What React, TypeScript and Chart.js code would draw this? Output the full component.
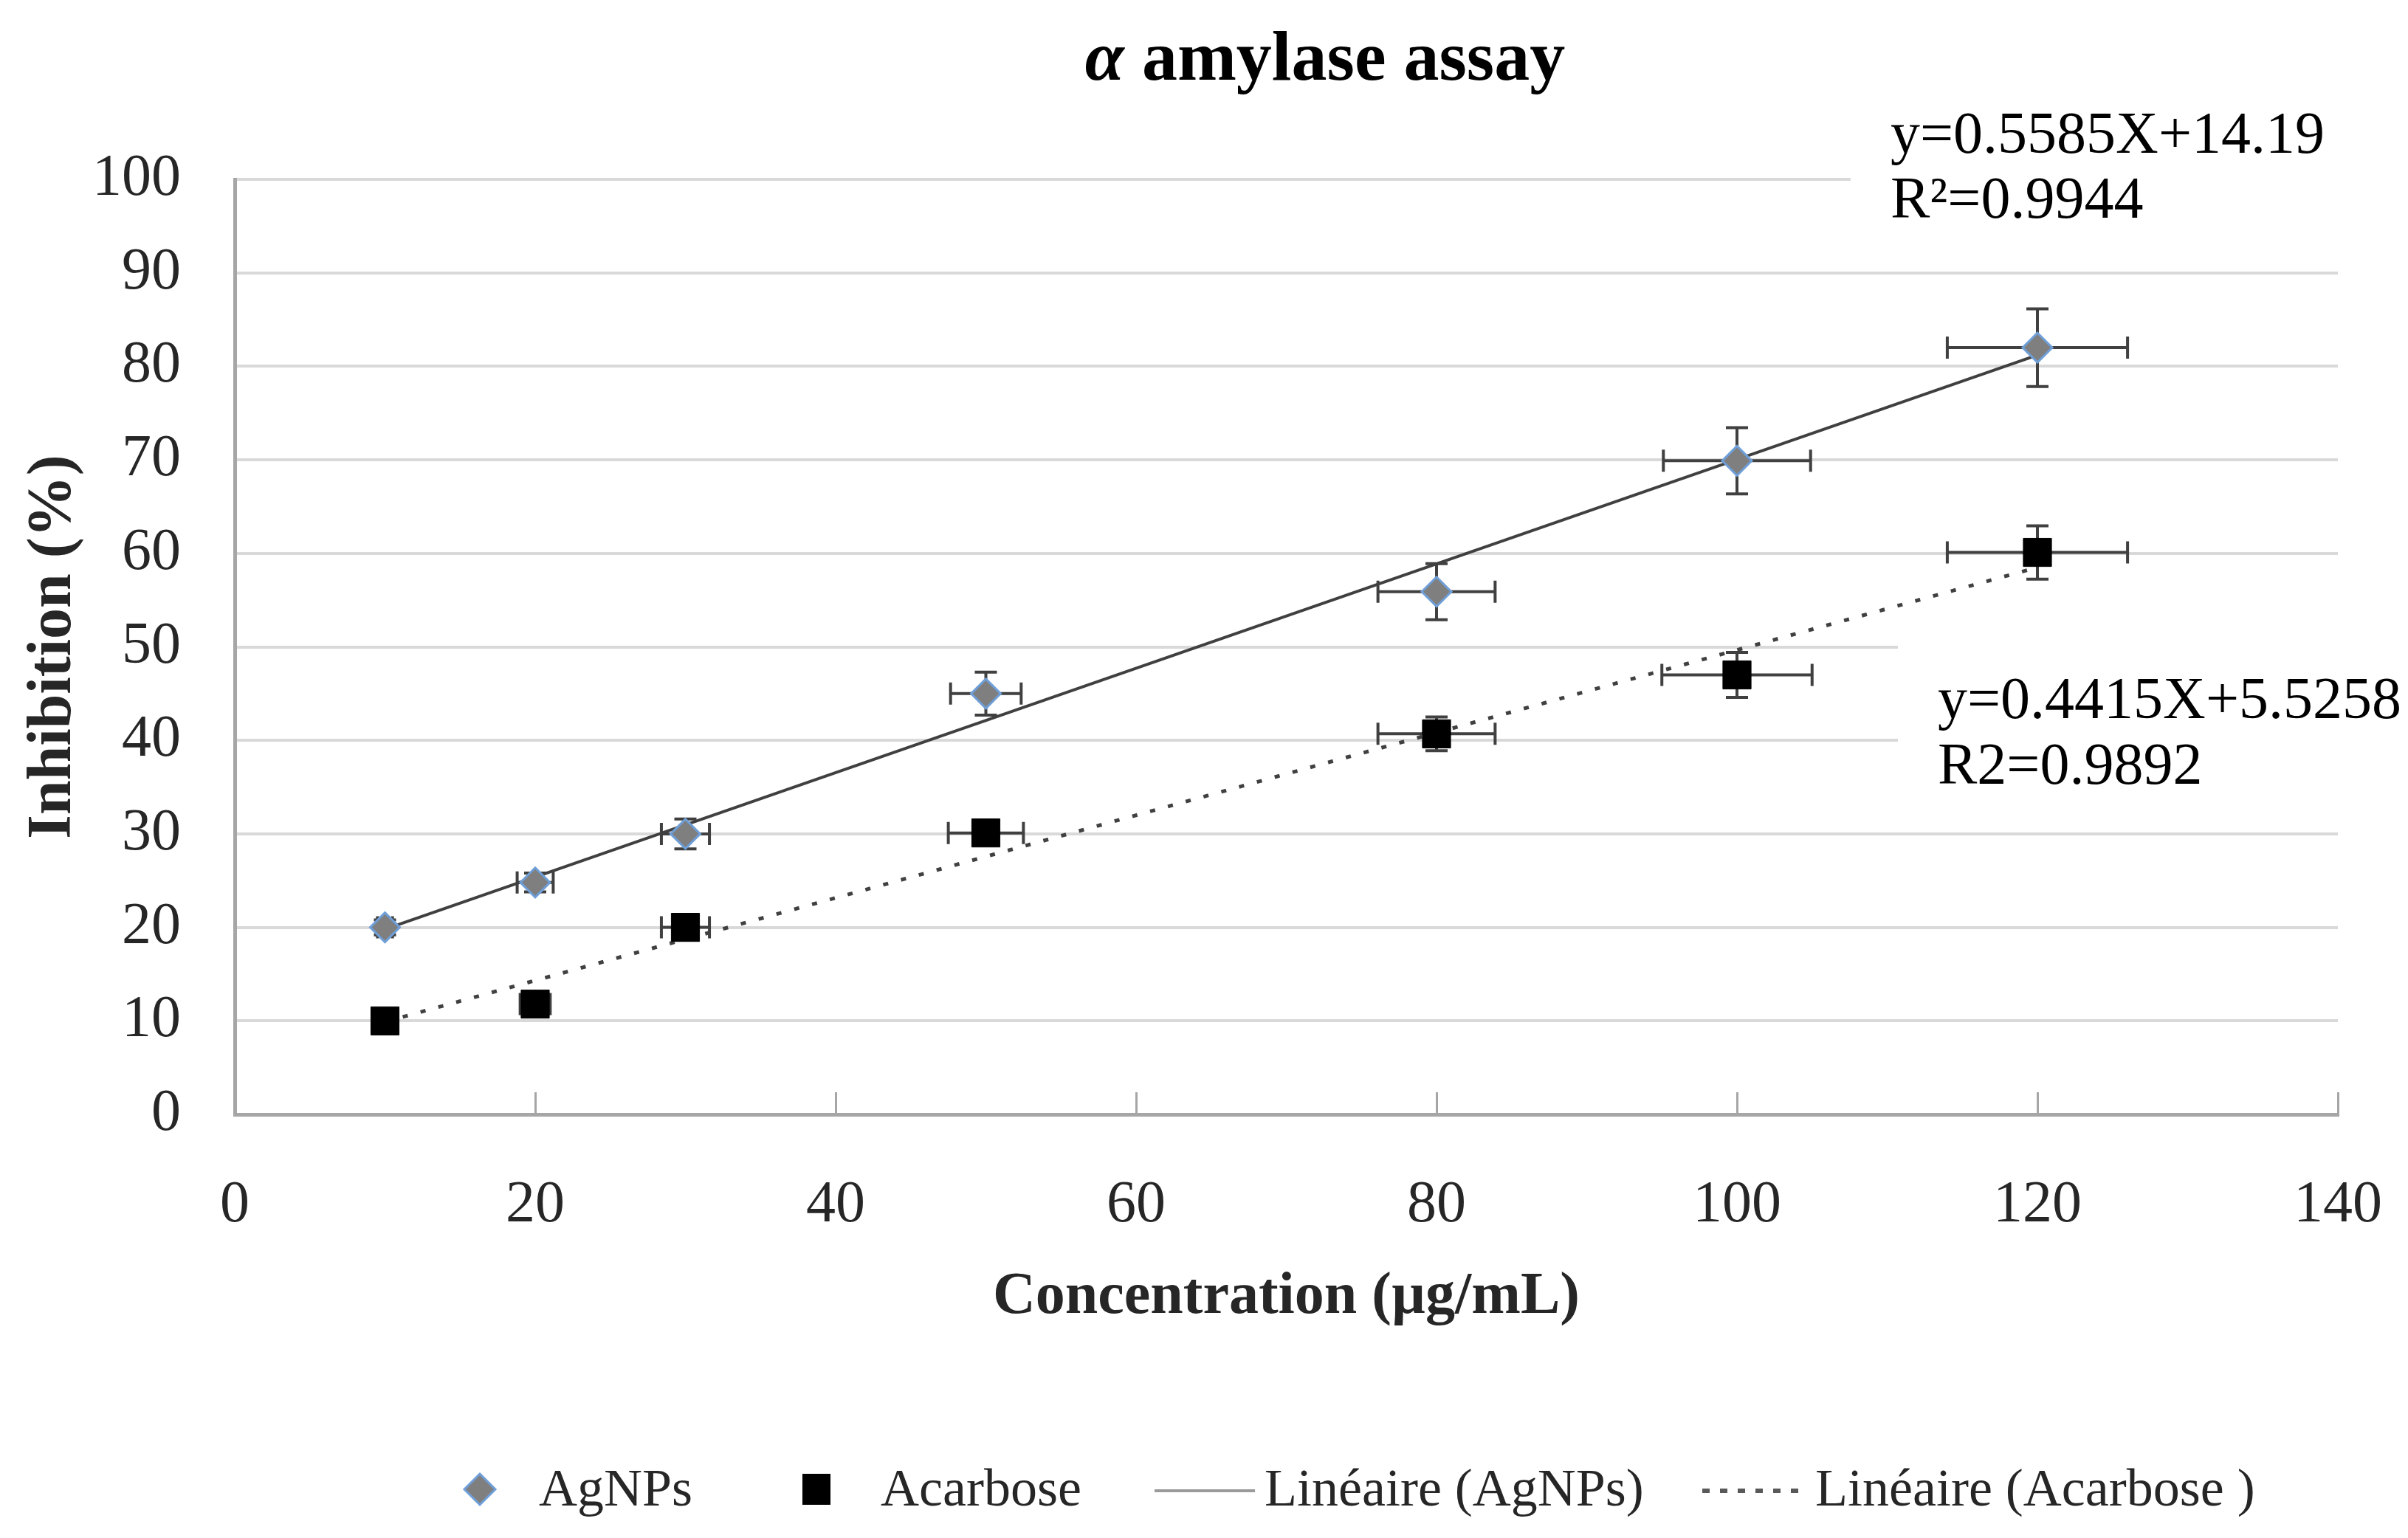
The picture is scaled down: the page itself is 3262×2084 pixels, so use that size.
import React, { useEffect, useRef } from 'react';
import { Chart, registerables } from 'chart.js';

Chart.register(...registerables);

const FONT = "'Liberation Serif', 'Times New Roman', serif";
const TEXT = '#262626';

// ---- data ----
const concentrations = [10, 20, 30, 50, 80, 100, 120];
const agnpsInhibition = [20, 24.8, 30, 45, 55.9, 69.9, 82];
const agnpsYErr = [0.8, 1, 1.6, 2.3, 3, 3.55, 4.15];
const agnpsXErr = [0.5, 1.2, 1.6, 2.35, 3.9, 4.9, 6];
const acarboseInhibition = [10, 11.8, 20, 30.1, 40.7, 47, 60.1];
const acarboseYErr = [0.5, 1, 1, 1, 1.8, 2.4, 2.85];
const acarboseXErr = [0, 1, 1.6, 2.5, 3.9, 5, 6];

const trendX = [10, 120];
const agnpsTrend = [19.8, 81.2];
const acarboseTrend = [9.9, 58.5];

const xMin = 0;
const xMax = 140;
const xStep = 20;
const yMin = 0;
const yMax = 100;
const yStep = 10;

const titleGreek = 'α';
const titleRest = ' amylase assay';
const xTitle = 'Concentration (µg/mL)';
const yTitle = 'Inhibition (%)';
const eqAgnps = ['y=0.5585X+14.19', 'R²=0.9944'];
const eqAcarbose = ['y=0.4415X+5.5258', 'R2=0.9892'];
const legendLabels = ['AgNPs', 'Acarbose', 'Linéaire (AgNPs)', 'Linéaire (Acarbose )'];

const pts = (xs: number[], ys: number[]) => xs.map((x, i) => ({ x, y: ys[i] }));

const titlePlugin = {
  id: 'customTitle',
  afterDraw(chart: any) {
    const { ctx } = chart;
    ctx.save();
    ctx.fillStyle = '#000';
    ctx.textBaseline = 'alphabetic';
    ctx.textAlign = 'left';
    const fGreek = `italic bold 96px ${FONT}`;
    const fRest = `bold 96px ${FONT}`;
    ctx.font = fGreek;
    const w1 = ctx.measureText(titleGreek).width;
    ctx.font = fRest;
    const w2 = ctx.measureText(titleRest).width;
    const start = 1795 - (w1 + w2) / 2;
    ctx.font = fGreek;
    ctx.fillText(titleGreek, start, 108);
    ctx.font = fRest;
    ctx.fillText(titleRest, start + w1, 108);
    ctx.restore();
  },
};

const annotationPlugin = {
  id: 'equations',
  beforeDatasetsDraw(chart: any) {
    const { ctx } = chart;
    ctx.save();
    ctx.fillStyle = '#ffffff';
    ctx.fillRect(2507, 125, 3262 - 2507, 195);
    ctx.fillRect(2571, 862, 3262 - 2571, 222);
    ctx.fillStyle = '#000';
    ctx.font = `80px ${FONT}`;
    ctx.textAlign = 'left';
    ctx.textBaseline = 'alphabetic';
    ctx.fillText(eqAgnps[0], 2561, 207);
    ctx.fillText(eqAgnps[1], 2561, 295);
    ctx.fillText(eqAcarbose[0], 2625, 973);
    ctx.fillText(eqAcarbose[1], 2625, 1062);
    ctx.restore();
  },
};

const errorBarPlugin = {
  id: 'errorBars',
  beforeDatasetsDraw(chart: any) {
    const { ctx } = chart;
    const xs = chart.scales.x;
    const ys = chart.scales.y;
    const series = [
      { v: agnpsInhibition, xe: agnpsXErr, ye: agnpsYErr },
      { v: acarboseInhibition, xe: acarboseXErr, ye: acarboseYErr },
    ];
    const cap = 15;
    ctx.save();
    ctx.strokeStyle = '#404040';
    ctx.lineWidth = 4;
    series.forEach((s) => {
      concentrations.forEach((c, i) => {
        const px = xs.getPixelForValue(c);
        const py = ys.getPixelForValue(s.v[i]);
        ctx.beginPath();
        if (s.ye[i] > 0) {
          const yt = ys.getPixelForValue(s.v[i] + s.ye[i]);
          const yb = ys.getPixelForValue(s.v[i] - s.ye[i]);
          ctx.moveTo(px, yt);
          ctx.lineTo(px, yb);
          ctx.moveTo(px - cap, yt);
          ctx.lineTo(px + cap, yt);
          ctx.moveTo(px - cap, yb);
          ctx.lineTo(px + cap, yb);
        }
        if (s.xe[i] > 0) {
          const xl = xs.getPixelForValue(c - s.xe[i]);
          const xr = xs.getPixelForValue(c + s.xe[i]);
          ctx.moveTo(xl, py);
          ctx.lineTo(xr, py);
          ctx.moveTo(xl, py - cap);
          ctx.lineTo(xl, py + cap);
          ctx.moveTo(xr, py - cap);
          ctx.lineTo(xr, py + cap);
        }
        ctx.stroke();
      });
    });
    ctx.restore();
  },
};

const legendPlugin = {
  id: 'customLegend',
  afterDraw(chart: any) {
    const { ctx } = chart;
    const cy = 2018;
    const base = 2040;
    ctx.save();
    // diamond
    ctx.beginPath();
    ctx.moveTo(650, cy - 21);
    ctx.lineTo(671, cy);
    ctx.lineTo(650, cy + 21);
    ctx.lineTo(629, cy);
    ctx.closePath();
    ctx.fillStyle = '#7f7f7f';
    ctx.fill();
    ctx.strokeStyle = '#6f9fd8';
    ctx.lineWidth = 3;
    ctx.stroke();
    // square
    ctx.fillStyle = '#000';
    ctx.fillRect(1087, cy - 21, 38, 42);
    // solid line
    ctx.beginPath();
    ctx.strokeStyle = '#9a9a9a';
    ctx.lineWidth = 4;
    ctx.moveTo(1564, cy + 2);
    ctx.lineTo(1700, cy + 2);
    ctx.stroke();
    // dotted line
    ctx.beginPath();
    ctx.strokeStyle = '#595959';
    ctx.lineWidth = 6;
    ctx.setLineDash([10, 14]);
    ctx.moveTo(2306, cy + 2);
    ctx.lineTo(2443, cy + 2);
    ctx.stroke();
    ctx.setLineDash([]);
    // texts
    ctx.fillStyle = TEXT;
    ctx.font = `72px ${FONT}`;
    ctx.textAlign = 'left';
    ctx.textBaseline = 'alphabetic';
    ctx.fillText(legendLabels[0], 730, base);
    ctx.fillText(legendLabels[1], 1193, base);
    ctx.fillText(legendLabels[2], 1713, base);
    ctx.fillText(legendLabels[3], 2459, base);
    ctx.restore();
  },
};

export default function App() {
  const ref = useRef<HTMLCanvasElement | null>(null);

  useEffect(() => {
    if (!ref.current) return;
    const chart = new Chart(ref.current, {
      type: 'scatter',
      data: {
        datasets: [
          {
            label: legendLabels[0],
            data: pts(concentrations, agnpsInhibition),
            pointStyle: 'rectRot',
            pointRadius: 20,
            backgroundColor: '#7f7f7f',
            borderColor: '#6f9fd8',
            borderWidth: 3,
          },
          {
            label: legendLabels[1],
            data: pts(concentrations, acarboseInhibition),
            pointStyle: 'rect',
            pointRadius: 27,
            backgroundColor: '#000000',
            borderColor: '#000000',
            borderWidth: 1,
          },
          {
            label: legendLabels[2],
            data: pts(trendX, agnpsTrend),
            showLine: true,
            pointRadius: 0,
            borderColor: '#404040',
            borderWidth: 4,
            backgroundColor: 'transparent',
          },
          {
            label: legendLabels[3],
            data: pts(trendX, acarboseTrend),
            showLine: true,
            pointRadius: 0,
            borderColor: '#404040',
            borderWidth: 5,
            borderDash: [7, 18],
            backgroundColor: 'transparent',
          },
        ],
      },
      options: {
        animation: false,
        responsive: false,
        devicePixelRatio: 1,
        layout: { padding: { top: 243, right: 95, left: 0, bottom: 0 } },
        plugins: {
          legend: { display: false },
          tooltip: { enabled: false },
          title: { display: false },
        },
        scales: {
          x: {
            type: 'linear',
            min: xMin,
            max: xMax,
            afterFit: (scale: any) => {
              scale.height = 574;
              scale.paddingLeft = 0;
              scale.paddingRight = 0;
            },
            ticks: {
              stepSize: xStep,
              padding: 106,
              color: TEXT,
              font: { family: FONT, size: 80 },
            },
            grid: {
              display: true,
              drawOnChartArea: false,
              drawTicks: true,
              tickLength: -30,
              color: '#a6a6a6',
              lineWidth: 3,
            },
            border: { display: true, color: '#a6a6a6', width: 5 },
            title: {
              display: true,
              text: xTitle,
              color: TEXT,
              font: { family: FONT, size: 80, weight: 'bold' },
              padding: { top: 0, bottom: 278 },
            },
          },
          y: {
            type: 'linear',
            min: yMin,
            max: yMax,
            afterFit: (scale: any) => {
              scale.width = 318;
            },
            ticks: {
              stepSize: yStep,
              padding: 73,
              color: TEXT,
              font: { family: FONT, size: 80 },
            },
            grid: {
              drawTicks: false,
              color: (c: any) => (c.tick && c.tick.value === 0 ? 'rgba(0,0,0,0)' : '#d9d9d9'),
              lineWidth: 4,
            },
            border: { display: true, color: '#a6a6a6', width: 5 },
            title: {
              display: true,
              text: yTitle,
              color: TEXT,
              font: { family: FONT, size: 84, weight: 'bold' },
              padding: { top: 23, bottom: 0 },
            },
          },
        },
      },
      plugins: [annotationPlugin, errorBarPlugin, titlePlugin, legendPlugin],
    } as any);
    return () => chart.destroy();
  }, []);

  return (
    <div style={{ position: 'absolute', left: 0, top: 0, width: 3262, height: 2084, background: '#ffffff' }}>
      <canvas ref={ref} width={3262} height={2084} style={{ display: 'block' }} />
    </div>
  );
}
